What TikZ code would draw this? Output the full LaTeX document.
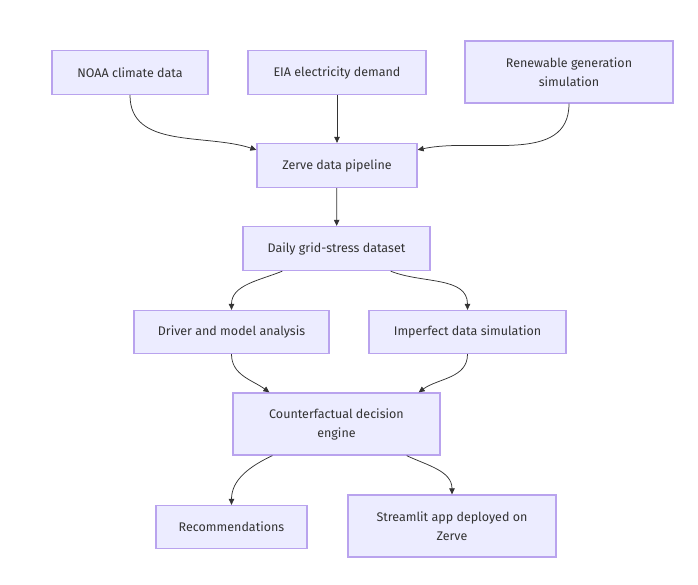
\documentclass[tikz,border=0pt]{standalone}
\usepackage{fontspec}
\setmainfont{Fira Sans}
\usetikzlibrary{arrows.meta}
\definecolor{mm_fill}{HTML}{ECECFF}
\definecolor{mm_line}{HTML}{B9A3EE}
\definecolor{mm_text}{HTML}{333333}

\begin{document}
\begin{tikzpicture}[x=1pt, y=1pt,
    box/.style={draw=mm_line, fill=mm_fill, line width=1.3pt, text=mm_text, align=center,
        inner sep=0pt, font=\fontsize{12.5}{19}\selectfont},
    flow/.style={draw=mm_text, line width=0.75pt, -{Triangle[length=6pt, width=5.5pt]}}]
    \useasboundingbox (0,0) rectangle (698,-584);

    % sources
    \node[box, minimum width=156pt, minimum height=44pt] (noaa) at (130,-72.5) {NOAA climate data};
    \node[box, minimum width=178pt, minimum height=44pt] (eia) at (337,-72.5) {EIA electricity demand};
    \node[box, minimum width=208pt, minimum height=62pt] (renew) at (569,-72) {Renewable generation\\simulation};

    \node[box, minimum width=160pt, minimum height=44pt] (zerve) at (337,-165.5) {Zerve data pipeline};
    \node[box, minimum width=187pt, minimum height=44pt] (daily) at (336.5,-248.5) {Daily grid-stress dataset};

    \node[box, minimum width=195pt, minimum height=43pt] (driver) at (231.5,-332) {Driver and model analysis};
    \node[box, minimum width=197pt, minimum height=43pt] (imperf) at (467.5,-332) {Imperfect data simulation};

    \node[box, minimum width=207pt, minimum height=62pt] (engine) at (336.5,-424) {Counterfactual decision\\engine};

    % outputs
    \node[box, minimum width=151pt, minimum height=43pt] (recs) at (231.5,-527) {Recommendations};
    \node[box, minimum width=208pt, minimum height=62pt] (app) at (452,-526) {Streamlit app deployed on\\Zerve};

    \draw[flow] (noaa.south) to[out=-90, in=162] ([yshift=-7pt]zerve.north west);
    \draw[flow] (eia) -- (zerve);
    \draw[flow] (renew.south) to[out=-90, in=12] ([yshift=-7pt]zerve.north east);
    \draw[flow] (zerve) -- (daily);
    \draw[flow] ([xshift=40pt]daily.south west) to[out=-158, in=90] (driver.north);
    \draw[flow] ([xshift=-40pt]daily.south east) to[out=-22, in=90] (imperf.north);
    \draw[flow] (driver.south) to[out=-90, in=144] ([xshift=37pt]engine.north west);
    \draw[flow] (imperf.south) to[out=-90, in=36] ([xshift=-22pt]engine.north east);
    \draw[flow] ([xshift=40pt]engine.south west) to[out=-155, in=90] (recs.north);
    \draw[flow] ([xshift=-34pt]engine.south east) to[out=-25, in=90] (app.north);

\end{tikzpicture}
\end{document}
